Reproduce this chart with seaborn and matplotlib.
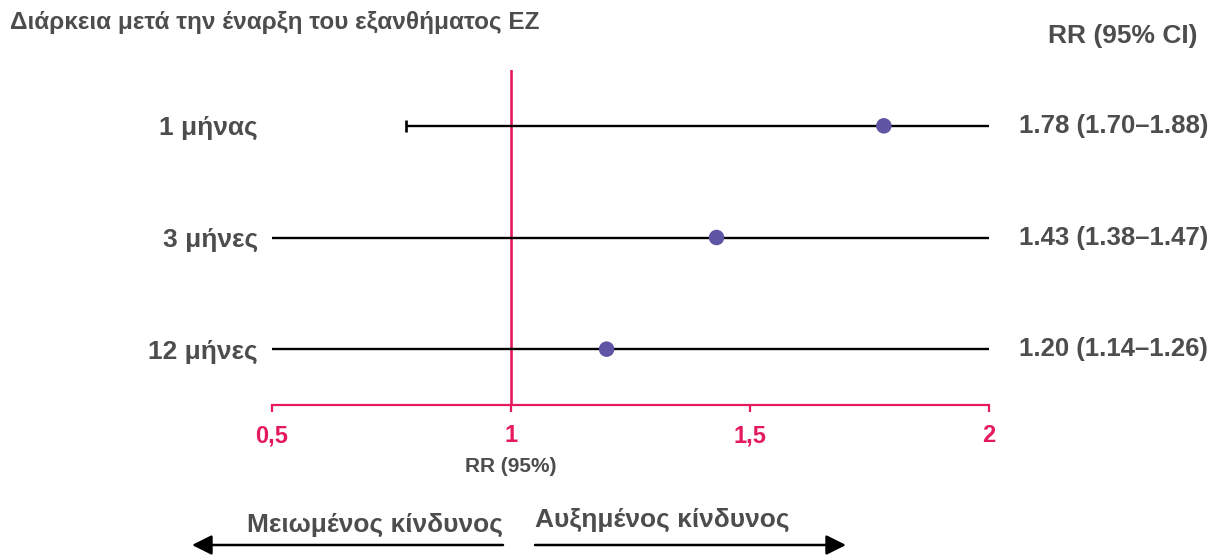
import matplotlib
matplotlib.use("Agg")
import matplotlib.pyplot as plt
import matplotlib.transforms as mtransforms
from matplotlib.patches import FancyArrowPatch
import pandas as pd
import seaborn as sns

# Forest plot data: risk ratio per time window after rash onset
durations = ["1 μήνας", "3 μήνες", "12 μήνες"]
rr = [1.78, 1.43, 1.20]
rr_labels = ["1.78 (1.70–1.88)", "1.43 (1.38–1.47)", "1.20 (1.14–1.26)"]
line_lo = [0.78, 0.5, 0.5]
line_hi = [2.0, 2.0, 2.0]
left_cap = [True, False, False]
x_ticks = [0.5, 1.0, 1.5, 2.0]
x_tick_labels = ["0,5", "1", "1,5", "2"]

PINK = "#E5195E"
PURPLE = "#5F55A5"
GREY = "#4D4D4D"

sns.set_theme(style="white")
plt.rcParams["font.family"] = ["Liberation Sans", "DejaVu Sans"]
plt.rcParams["font.weight"] = "bold"

W, H = 1214, 556
fig = plt.figure(figsize=(W / 100, H / 100), dpi=100)


def fx(px):
    return px / W


def fy(py):
    return 1 - py / H


ax = fig.add_axes([fx(272), fy(405), fx(989) - fx(272), fy(70) - fy(405)])

df = pd.DataFrame({"row": range(len(durations)), "rr": rr,
                   "lo": line_lo, "hi": line_hi, "cap": left_cap})

# Horizontal reference lines per row
for _, r in df.iterrows():
    ax.plot([r.lo, r.hi], [r.row, r.row], color="black", lw=1.7,
            solid_capstyle="butt", zorder=2, clip_on=False)
    if r.cap:
        ax.plot([r.lo], [r.row], marker="|", markersize=9, mew=1.9,
                color="black", zorder=2, clip_on=False)

# Line of no effect
ax.axvline(1.0, color=PINK, lw=1.9, zorder=1)

# Point estimates
sns.scatterplot(data=df, x="rr", y="row", ax=ax, color=PURPLE, s=125,
                edgecolor="none", zorder=3, legend=False)

ax.set_xlim(0.5, 2.0)
ax.set_ylim(len(durations) - 0.5, -0.5)
ax.set_xlabel("")
ax.set_ylabel("")

ax.set_xticks(x_ticks, labels=x_tick_labels)
ax.set_yticks(range(len(durations)), labels=durations)
ax.tick_params(axis="x", colors=PINK, length=5, width=1.6, pad=9,
               labelsize=17, direction="out", bottom=True)
for lab in ax.get_xticklabels():
    lab.set_fontweight("bold")
    lab.set_color(PINK)
ax.tick_params(axis="y", length=0, pad=10, labelsize=19, labelcolor=GREY)
for lab in ax.get_yticklabels():
    lab.set_fontweight("bold")

for side in ["top", "right", "left"]:
    ax.spines[side].set_visible(False)
ax.spines["bottom"].set_color(PINK)
ax.spines["bottom"].set_linewidth(1.6)
ax.patch.set_alpha(0)

# Estimate labels on the right
blend = mtransforms.blended_transform_factory(fig.transFigure, ax.transData)
for i, lab in enumerate(rr_labels):
    ax.text(fx(1208), i, lab, transform=blend, ha="right", va="center",
            fontsize=18.5, fontweight="bold", color=GREY)

fig.text(fx(10), fy(22), "Διάρκεια μετά την έναρξη του εξανθήματος ΕΖ",
         ha="left", va="center", fontsize=17.5, fontweight="bold", color=GREY)
fig.text(fx(1198), fy(36), "RR (95% CI)", ha="right", va="center",
         fontsize=19, fontweight="bold", color=GREY)
fig.text(fx(511), fy(467), "RR (95%)", ha="center", va="center",
         fontsize=15, fontweight="bold", color=GREY)

# Direction arrows below the axis
fig.text(fx(503), fy(525), "Μειωμένος κίνδυνος", ha="right", va="center",
         fontsize=19, fontweight="bold", color=GREY)
fig.text(fx(535), fy(520), "Αυξημένος κίνδυνος", ha="left", va="center",
         fontsize=19, fontweight="bold", color=GREY)
arrow_kw = dict(arrowstyle="-|>,head_length=0.6,head_width=0.3",
                mutation_scale=20, color="black", lw=1.8,
                shrinkA=0, shrinkB=0, transform=fig.transFigure)
fig.add_artist(FancyArrowPatch((fx(503), fy(545)), (fx(192), fy(545)),
                               **arrow_kw))
fig.add_artist(FancyArrowPatch((fx(535), fy(545)), (fx(846), fy(545)),
                               **arrow_kw))

fig.savefig("out.png", dpi=100, facecolor="white")
